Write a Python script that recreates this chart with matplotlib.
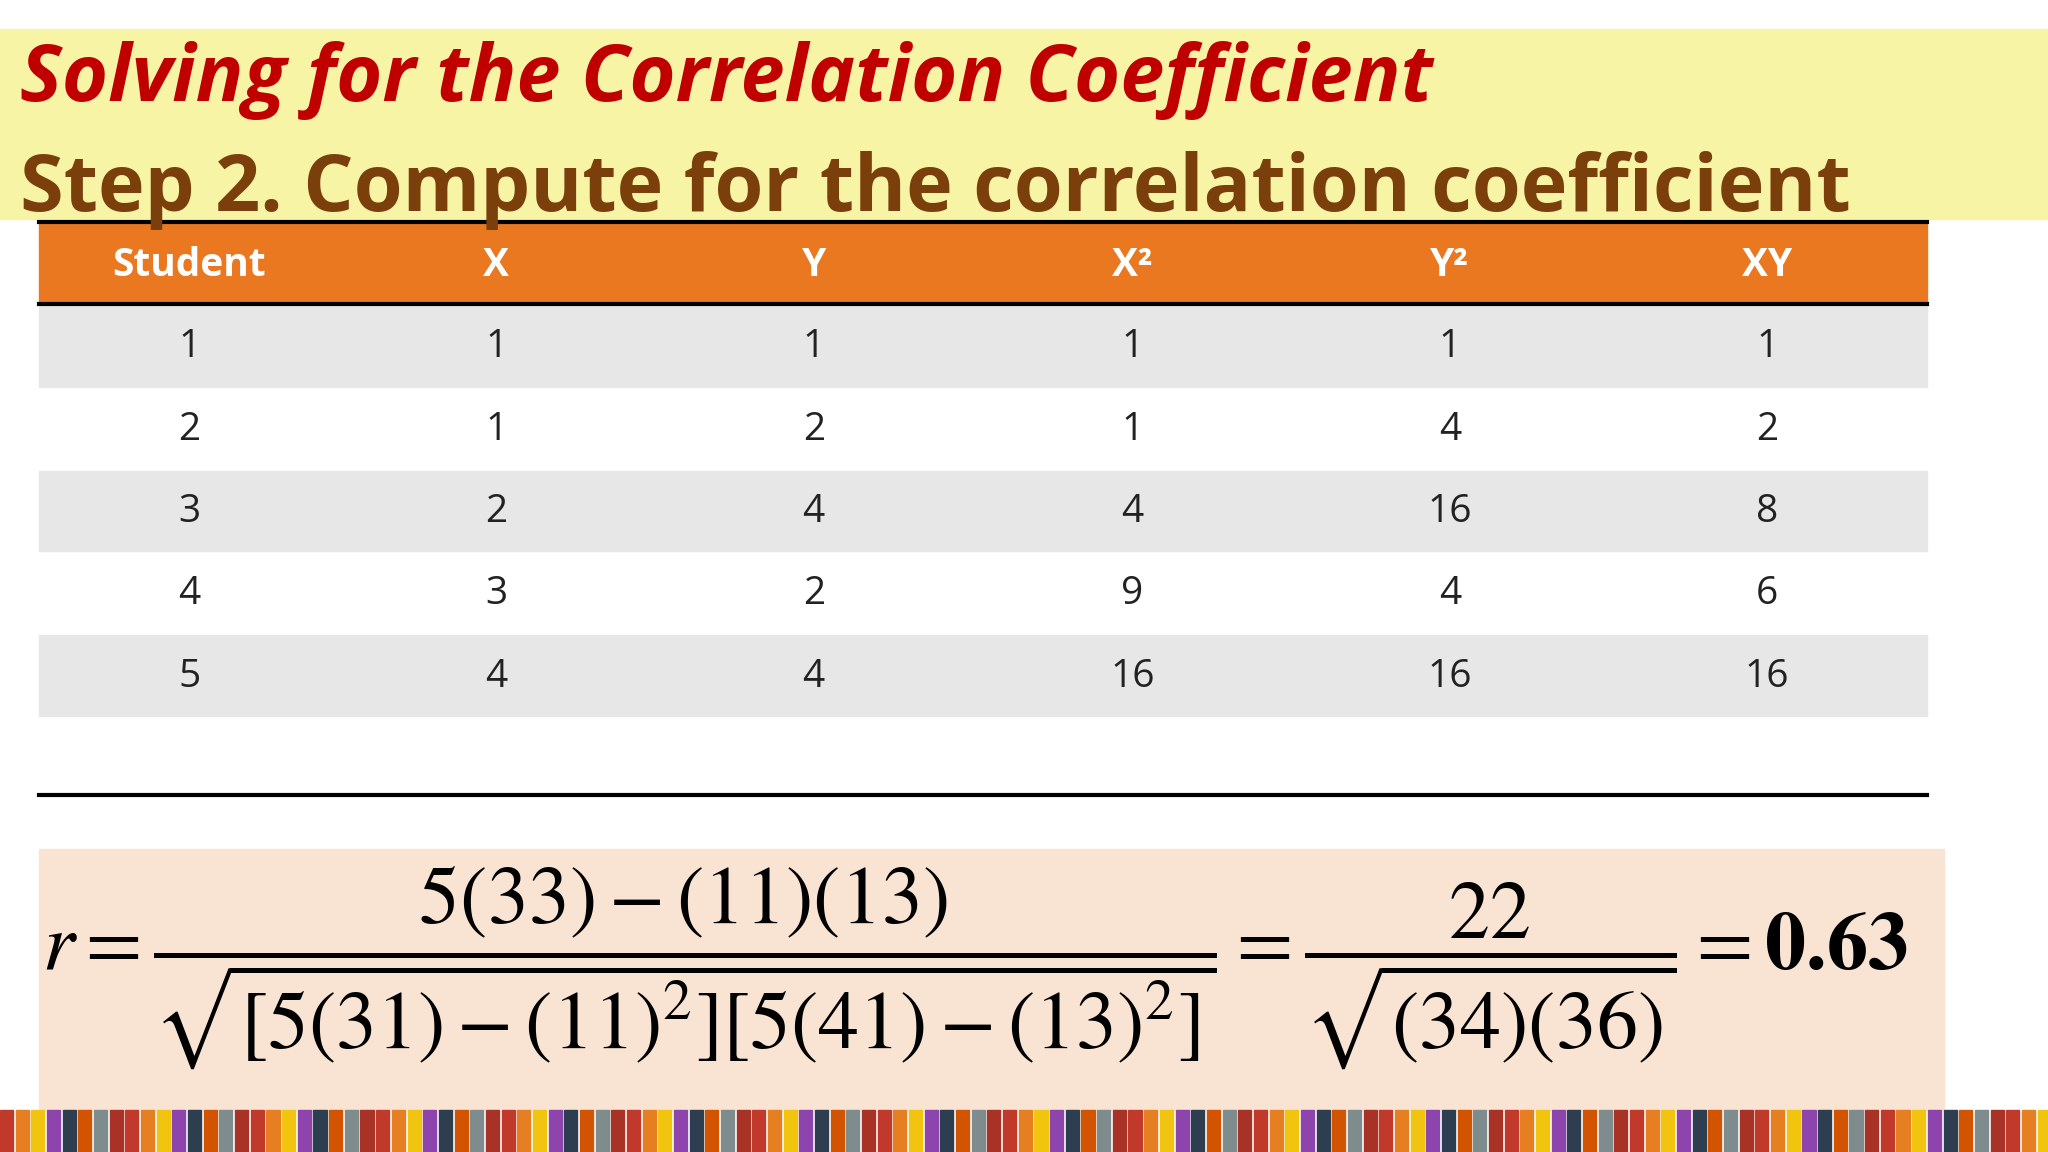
import matplotlib
matplotlib.use("Agg")
import matplotlib.pyplot as plt
from matplotlib.patches import Rectangle
import itertools

plt.rcParams['mathtext.fontset'] = 'stix'

title1 = "Solving for the Correlation Coefficient"
title2 = "Step 2. Compute for the correlation coefficient"
headers = ["Student", "X", "Y", "X²", "Y²", "XY"]
students = [1, 2, 3, 4, 5]
x_vals = [1, 1, 2, 3, 4]
y_vals = [1, 2, 4, 2, 4]
x2_vals = [1, 1, 4, 9, 16]
y2_vals = [1, 4, 16, 4, 16]
xy_vals = [1, 2, 8, 6, 16]
formula = (r"$r=\dfrac{5(33)-(11)(13)}{\sqrt{[5(31)-(11)^2][5(41)-(13)^2]}}"
           r"=\dfrac{22}{\sqrt{(34)(36)}}=\mathbf{0.63}$")

W, H = 1568, 882
fig = plt.figure(figsize=(20.48, 11.52), dpi=100)
ax = fig.add_axes([0, 0, 1, 1])
ax.set_xlim(0, W); ax.set_ylim(H, 0); ax.axis('off')

ax.add_patch(Rectangle((0, 22), W, 146, color='#f8f4a6', zorder=0))
ax.text(15, 62, title1, color='#c00000', fontsize=57, fontweight='bold',
        style='italic', family='Open Sans', va='center')
ax.text(15, 146, title2, color='#7b3f0c', fontsize=57, fontweight='bold',
        family='Open Sans', va='center')

L, R = 30, 1475
ax.add_patch(Rectangle((L, 170), R - L, 63, color='#e97820', zorder=1))
ax.plot([L, R], [170, 170], color='black', lw=3, zorder=2)
ax.plot([L, R], [233, 233], color='black', lw=3, zorder=2)
cols = [145, 380, 623, 867, 1110, 1353]
for c, h in zip(cols, headers):
    ax.text(c, 203, h, color='white', fontsize=28, fontweight='bold',
            family='Open Sans', ha='center', va='center', zorder=3)
rows = list(zip(students, x_vals, y_vals, x2_vals, y2_vals, xy_vals))
for i, row in enumerate(rows):
    top = 233 + 63 * i
    if i % 2 == 0:
        ax.add_patch(Rectangle((L, top + 1.5), R - L, 61.5, color='#e7e7e7', zorder=1))
    for c, v in zip(cols, row):
        ax.text(c, top + 33, str(v), fontsize=28, family='Open Sans',
                ha='center', va='center', color='#222222', zorder=3)
ax.plot([L, R], [609, 609], color='black', lw=3)

ax.add_patch(Rectangle((30, 650), 1458, 200, color='#f9e4d3', zorder=0))
ax.text(32, 740, formula, fontsize=59, ha='left', va='center', color='black')

pc = ['#c0392b', '#e67e22', '#f1c40f', '#8e44ad', '#2c3e50', '#d35400', '#7f8c8d', '#a93226']
for k, col in zip(range(0, W, 12), itertools.cycle(pc)):
    ax.add_patch(Rectangle((k, 850), 10, 32, color=col, zorder=0))

fig.savefig('out.png', dpi=100)
